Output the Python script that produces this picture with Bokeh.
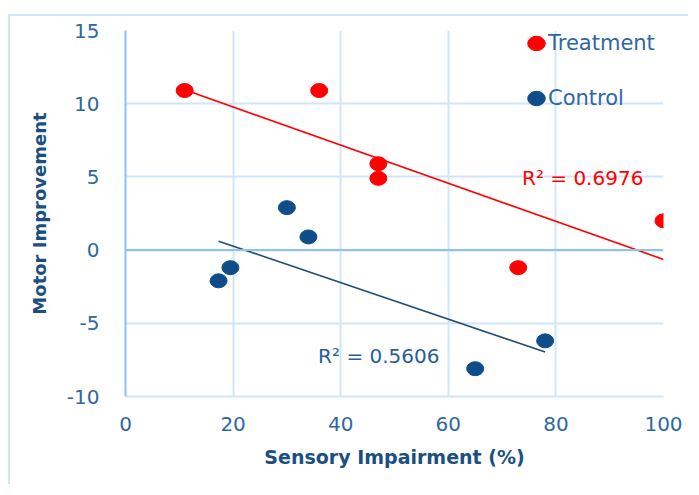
import numpy as np
from bokeh.plotting import figure
from bokeh.models import Range1d, Span, Legend, LegendItem, FixedTicker, Label
from bokeh.embed import file_html
from bokeh.resources import INLINE

# Data
treat_x = [11, 36, 47, 47, 73, 100]
treat_y = [10.9, 10.9, 5.9, 4.9, -1.2, 2.0]
ctrl_x = [17.3, 19.5, 30, 34, 65, 78]
ctrl_y = [-2.1, -1.2, 2.9, 0.9, -8.1, -6.2]
x_ticks = [0, 20, 40, 60, 80, 100]
y_ticks = [-10, -5, 0, 5, 10, 15]
y_tick_labels = {-10: "-10", -5: "-5", 0: "0", 5: "5", 10: "10", 15: "15"}
r2_treat = "R² = 0.6976"
r2_ctrl = "R² = 0.5606"

RED = "#ff0000"
BLUE = "#0e4c8a"
GRID = "#cfe6fa"
AXIS = "#8ec2f0"
TICK_TXT = "#2f67a3"
TITLE_TXT = "#1b4f82"
FONT = "DejaVu Sans"

p = figure(width=680, height=470,
           x_range=Range1d(0, 100), y_range=Range1d(-10, 15),
           output_backend="svg", toolbar_location=None,
           min_border_left=115, min_border_top=14,
           min_border_right=27, min_border_bottom=90)
p.styles = {"border-left": f"2px solid {GRID}", "border-top": f"2px solid {GRID}",
            "margin-top": "14px", "margin-left": "8px"}
p.outline_line_color = None
p.background_fill_color = "white"

p.xaxis.ticker = FixedTicker(ticks=x_ticks)
p.yaxis.ticker = FixedTicker(ticks=y_ticks)
p.yaxis.major_label_overrides = y_tick_labels
for ax in (p.xaxis, p.yaxis):
    ax.major_tick_line_color = None
    ax.minor_tick_line_color = None
    ax.major_tick_out = 0
    ax.major_tick_in = 0
    ax.major_label_text_font = FONT
    ax.major_label_text_font_size = "20px"
    ax.major_label_text_color = TICK_TXT
    ax.axis_label_text_font = FONT
    ax.axis_label_text_font_style = "bold"
    ax.axis_label_text_color = TITLE_TXT
p.xaxis.major_label_standoff = 20
p.yaxis.major_label_standoff = 26
p.xaxis.axis_line_color = GRID
p.xaxis.axis_line_width = 2
p.yaxis.axis_line_color = AXIS
p.yaxis.axis_line_width = 2
p.xaxis.axis_label = "Sensory Impairment (%)"
p.yaxis.axis_label = "Motor Improvement"
p.xaxis.axis_label_text_font_size = "19px"
p.yaxis.axis_label_text_font_size = "18px"
p.xaxis.axis_label_standoff = 12
p.yaxis.axis_label_standoff = 14

p.xgrid.grid_line_color = GRID
p.xgrid.grid_line_width = 2
p.ygrid.grid_line_color = GRID
p.ygrid.grid_line_width = 2

p.add_layout(Span(location=0, dimension="width", line_color=AXIS, line_width=2))

# Trendlines (least squares)
for xs, ys, col in ((treat_x, treat_y, RED), (ctrl_x, ctrl_y, "#1f4e79")):
    m, b = np.polyfit(xs, ys, 1)
    lx = [min(xs), max(xs)]
    p.line(lx, [m * v + b for v in lx], line_color=col, line_width=1.6)

r_t = p.ellipse(treat_x, treat_y, width=17, height=14, width_units="screen",
                height_units="screen", fill_color=RED, line_color=RED)
r_c = p.ellipse(ctrl_x, ctrl_y, width=17, height=14, width_units="screen",
                height_units="screen", fill_color=BLUE, line_color=BLUE)

p.add_layout(Label(x=73.7, y=4.9, text=r2_treat, text_color=RED,
                   text_font=FONT, text_font_size="20px", text_baseline="middle"))
p.add_layout(Label(x=35.8, y=-7.2, text=r2_ctrl, text_color="#2a5f96",
                   text_font=FONT, text_font_size="20px", text_baseline="middle"))

legend = Legend(items=[LegendItem(label="Treatment", renderers=[r_t]),
                       LegendItem(label="Control", renderers=[r_c])],
                location=(400, 285), padding=0, margin=0,
                border_line_color=None, background_fill_alpha=0,
                glyph_width=22, glyph_height=22, label_height=26, spacing=29,
                label_standoff=1, label_text_font=FONT,
                label_text_font_size="21px", label_text_color=TICK_TXT)
p.add_layout(legend)

open("out.html", "w").write(file_html(p, INLINE))
